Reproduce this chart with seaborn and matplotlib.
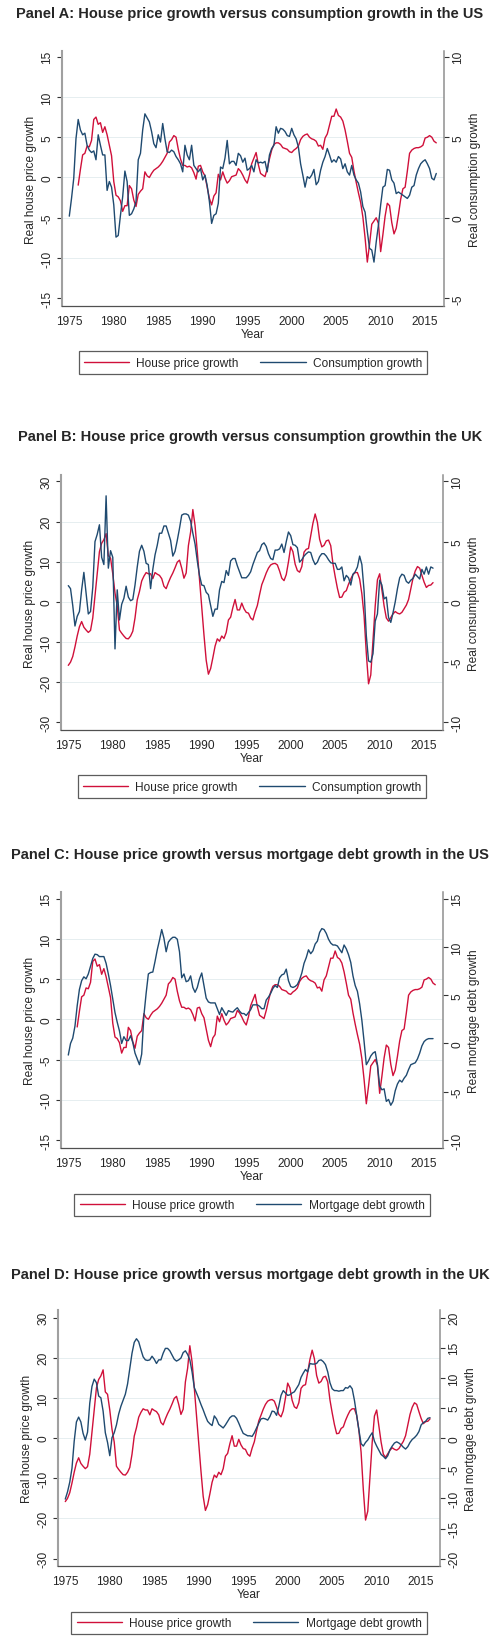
import numpy as np
import seaborn as sns
import matplotlib.pyplot as plt

# quarterly observation dates
us_house_year = np.arange(1976.0, 2016.5, 0.25)   # 1976Q1 - 2016Q2
us_cons_year = np.arange(1975.0, 2016.5, 0.25)    # 1975Q1 - 2016Q2
q_year = np.arange(1975.0, 2016.25, 0.25)         # 1975Q1 - 2016Q1

# real house price growth, US (left axis, panels A and C)
us_house = [
    -0.95, 1.0, 2.8, 3.0,
    3.9, 3.8, 4.6, 7.2,
    7.5, 6.6, 6.8, 5.6,
    6.3, 5.3, 4.0, 2.7,
    -0.5, -2.2, -2.4, -2.9,
    -4.2, -3.5, -3.5, -1.0,
    -1.4, -2.8, -3.6, -2.1,
    -1.7, -1.4, 0.7, 0.2,
    0.0, 0.5, 0.9, 1.1,
    1.3, 1.6, 2.0, 2.5,
    3.0, 4.4, 4.7, 5.2,
    5.0, 3.5, 2.3, 1.5,
    1.5, 1.3, 1.4, 1.2,
    0.6, -0.2, 1.4, 1.5,
    0.7, 0.2, -1.2, -2.6,
    -3.4, -2.3, -1.9, 0.4,
    -0.3, 0.7, -0.1, -0.7,
    -0.4, 0.1, 0.2, 0.3,
    1.1, 0.8, 0.3, -0.3,
    -0.7, 0.3, 1.7, 2.4,
    3.1, 1.6, 0.5, 0.3,
    0.1, 1.1, 2.3, 3.4,
    4.1, 4.3, 4.3, 4.1,
    3.7, 3.6, 3.5, 3.2,
    3.1, 3.4, 3.6, 3.9,
    4.7, 5.1, 5.3, 5.4,
    5.0, 4.8, 4.7, 4.5,
    3.9, 4.0, 3.5, 4.9,
    5.4, 6.5, 7.6, 7.6,
    8.5, 7.7, 7.5, 7.0,
    5.9, 4.5, 3.0, 2.5,
    0.8, -0.6, -1.9, -3.1,
    -4.9, -7.5, -10.5, -8.3,
    -5.8, -5.4, -5.0, -5.7,
    -9.2, -7.1, -4.8, -3.2,
    -3.5, -5.6, -7.0, -6.3,
    -4.6, -2.7, -1.4, -1.2,
    0.8, 3.0, 3.4, 3.6,
    3.7, 3.7, 3.8, 4.0,
    4.9, 5.0, 5.2, 5.0,
    4.5, 4.3,
]

# real consumption growth, US (right axis, panel A)
us_cons = [
    0.1, 1.2, 2.45, 4.9,
    6.1, 5.45, 5.15, 5.25,
    4.5, 4.2, 4.05, 4.15,
    3.6, 5.15, 4.5, 3.9,
    3.9, 1.7, 2.25, 1.9,
    0.8, -1.2, -1.1, 0.15,
    1.3, 2.9, 2.25, 0.15,
    0.25, 0.55, 1.0, 3.6,
    4.0, 5.45, 6.45, 6.2,
    5.95, 5.35, 4.6, 4.35,
    5.15, 4.7, 5.85, 4.9,
    4.1, 4.05, 4.2, 4.1,
    3.8, 3.6, 3.35, 2.85,
    4.5, 3.9, 3.6, 4.5,
    3.25, 3.05, 2.85, 3.05,
    2.35, 2.65, 2.0, 1.0,
    -0.35, 0.15, 0.25, 0.9,
    3.15, 3.05, 3.7, 4.8,
    3.35, 3.5, 3.5, 3.25,
    4.0, 3.85, 3.45, 3.7,
    2.95, 3.05, 3.25, 2.85,
    3.6, 3.4, 3.45, 3.4,
    3.5, 2.85, 3.9, 4.3,
    4.5, 5.65, 5.25, 5.55,
    5.5, 5.35, 5.1, 5.05,
    5.55, 5.15, 4.9, 4.4,
    3.35, 2.65, 1.9, 2.55,
    2.45, 2.65, 3.0, 2.05,
    2.25, 2.95, 3.45, 3.8,
    4.3, 3.9, 3.45, 3.6,
    3.45, 3.8, 3.65, 3.05,
    3.35, 2.85, 2.65, 3.25,
    2.65, 2.35, 2.15, 1.6,
    0.7, 0.35, -0.85, -1.9,
    -2.0, -2.75, -1.5, -0.45,
    0.8, 1.9, 2.0, 3.0,
    2.95, 2.35, 2.15, 1.5,
    1.6, 1.5, 1.4, 1.3,
    1.2, 1.4, 1.9, 2.0,
    2.65, 3.05, 3.35, 3.5,
    3.6, 3.35, 3.05, 2.45,
    2.35, 2.75,
]

# real house price growth, UK (left axis, panels B and D)
uk_house = [
    -15.8, -15.0, -13.6, -11.2,
    -8.5, -6.2, -4.9, -6.3,
    -7.0, -7.6, -7.1, -4.0,
    1.5, 7.0, 12.5, 14.6,
    15.5, 17.0, 11.5, 10.9,
    7.0, 2.2, -1.0, -7.0,
    -7.8, -8.5, -9.1, -9.2,
    -8.5, -7.3, -4.0, 0.5,
    2.6, 5.2, 6.4, 7.3,
    7.0, 7.0, 5.8, 7.3,
    6.9, 6.6, 5.8, 3.9,
    3.3, 4.8, 6.1, 7.2,
    8.5, 9.9, 10.4, 8.4,
    5.9, 7.2, 14.0, 17.4,
    23.0, 19.0, 12.5, 5.5,
    -1.5, -8.2, -14.5, -18.0,
    -16.6, -13.9, -11.0, -9.2,
    -9.8, -8.5, -9.1, -7.6,
    -4.5, -3.8, -1.4, 0.6,
    -2.0, -2.0, -0.3, -1.7,
    -2.6, -2.8, -4.0, -4.5,
    -2.5, -0.9, 1.8, 4.3,
    5.7, 7.2, 8.4, 9.2,
    9.5, 9.6, 9.2, 7.7,
    5.9, 5.3, 6.8, 10.0,
    13.7, 12.5, 9.4, 7.8,
    7.4, 8.8, 12.4, 13.1,
    13.3, 16.5, 19.6, 21.9,
    19.8, 15.6, 13.7, 14.1,
    15.2, 15.4, 14.0, 9.5,
    6.3, 3.4, 1.1, 1.2,
    2.4, 2.8, 4.4, 5.7,
    6.8, 7.3, 7.3, 5.7,
    2.0, -3.5, -12.8, -20.4,
    -18.2, -9.5, -1.0, 5.5,
    7.0, 2.9, -1.0, -4.0,
    -4.8, -3.9, -3.0, -2.4,
    -2.8, -3.0, -2.6, -1.7,
    -0.8, 0.6, 3.2, 5.9,
    7.7, 8.8, 8.4, 6.6,
    4.9, 3.6, 4.1, 4.2,
    4.8,
]

# real consumption growth, UK (right axis, panel B)
uk_cons = [
    1.35, 1.1, -0.3, -2.0,
    -1.2, -0.8, 1.0, 2.45,
    0.7, -1.0, -0.8, 1.2,
    5.0, 5.6, 6.4, 3.7,
    3.1, 8.8, 2.8, 4.25,
    3.7, -3.9, 1.0, -1.5,
    -0.2, 0.3, 1.3, 0.4,
    0.1, 0.2, 1.4, 2.9,
    4.2, 4.7, 4.2, 3.2,
    3.1, 1.1, 2.7, 3.9,
    4.7, 5.7, 5.7, 6.3,
    6.3, 5.7, 5.1, 3.8,
    4.2, 5.1, 6.1, 7.2,
    7.3, 7.3, 7.2, 6.7,
    5.7, 4.8, 3.4, 2.2,
    1.4, 1.35, 0.8, 0.6,
    -0.3, -1.2, -0.6, -0.6,
    1.0, 1.7, 1.6, 2.6,
    2.2, 3.4, 3.6, 3.6,
    3.0, 2.5, 2.0, 2.0,
    2.0, 2.2, 2.5, 3.1,
    3.6, 4.1, 4.25, 4.75,
    4.9, 4.6, 4.0, 3.6,
    3.5, 4.3, 4.3, 4.4,
    4.8, 4.1, 5.0, 5.8,
    5.5, 4.75, 4.7, 4.5,
    3.3, 3.5, 3.8, 4.0,
    4.15, 4.1, 3.5, 3.1,
    3.3, 3.75, 4.0, 4.0,
    3.8, 3.5, 3.25, 3.2,
    3.2, 2.7, 2.7, 2.9,
    1.75, 2.2, 2.0, 1.4,
    2.3, 2.5, 2.9, 3.8,
    3.1, 0.9, -2.8, -4.9,
    -5.0, -4.3, -1.6, -1.0,
    1.8, 1.4, 0.25, 0.4,
    -1.3, -1.7, -0.9, 0.0,
    1.1, 2.0, 2.3, 2.2,
    1.7, 1.55, 1.8, 1.95,
    2.3, 2.1, 1.9, 2.7,
    2.3, 2.9, 2.3, 2.9,
    2.8,
]

# real mortgage debt growth, US (right axis, panel C)
us_mort = [
    -1.2, 0.0, 0.55, 1.8,
    3.9, 5.6, 6.5, 6.9,
    6.7, 7.2, 8.0, 8.8,
    9.25, 9.2, 9.0, 9.0,
    9.0, 8.3, 7.2, 6.0,
    4.6, 3.2, 2.2, 1.3,
    0.0, 0.7, 0.3, 0.3,
    0.8, 0.1, -1.0, -1.6,
    -2.2, -1.1, 2.9, 5.2,
    7.2, 7.35, 7.4, 8.5,
    9.7, 10.7, 11.8, 10.9,
    9.5, 10.5, 10.8, 11.0,
    11.0, 10.8, 9.5, 6.8,
    7.2, 6.4, 6.5, 7.0,
    5.8, 5.3, 5.8, 6.7,
    7.3, 6.0, 4.7, 4.3,
    4.2, 4.2, 4.2, 3.6,
    3.0, 3.7, 3.3, 2.9,
    3.4, 3.3, 3.25, 3.5,
    3.7, 3.35, 3.1, 3.1,
    2.9, 3.2, 3.5, 4.0,
    4.0, 4.0, 3.85, 3.6,
    3.6, 4.5, 4.8, 5.2,
    5.7, 6.0, 5.8, 6.8,
    7.1, 7.2, 7.7, 6.5,
    5.9, 5.8, 5.9, 6.1,
    6.6, 7.3, 8.3, 8.9,
    9.7, 9.3, 9.6, 10.3,
    10.6, 11.5, 11.9, 11.8,
    11.4, 10.8, 10.4, 10.2,
    10.2, 10.1, 9.75, 9.4,
    10.2, 9.8, 9.2, 8.4,
    7.0, 6.0, 5.4, 4.1,
    2.4, 0.2, -2.2, -1.8,
    -1.3, -1.0, -0.85, -2.2,
    -4.4, -4.8, -4.7, -6.0,
    -5.8, -6.4, -6.0, -4.9,
    -4.2, -3.8, -4.0, -3.6,
    -3.3, -2.7, -2.2, -2.1,
    -2.0, -1.6, -1.0, -0.25,
    0.2, 0.4, 0.5, 0.5,
    0.5,
]

# real mortgage debt growth, UK (right axis, panel D)
uk_mort = [
    -10.1, -8.9, -7.3, -5.0,
    -0.5, 2.7, 3.5, 2.7,
    0.8, -0.3, 1.0, 5.8,
    8.6, 9.8, 9.2, 7.0,
    6.7, 4.5, 0.9, -0.7,
    -2.9, 0.1, 0.9, 2.2,
    4.0, 5.3, 6.3, 7.3,
    9.0, 11.5, 14.1, 15.9,
    16.5, 16.0, 14.7, 13.5,
    13.0, 12.9, 13.0, 13.6,
    13.1, 12.4, 13.0, 13.0,
    14.1, 14.9, 14.9, 14.5,
    13.8, 13.1, 12.8, 13.0,
    13.3, 14.2, 14.5, 13.9,
    13.0, 11.0, 8.4, 7.5,
    6.6, 5.6, 4.7, 3.7,
    2.8, 2.4, 2.1, 3.7,
    3.2, 2.3, 2.0, 1.7,
    2.2, 2.8, 3.4, 3.7,
    3.7, 3.3, 2.5, 1.6,
    0.8, 0.6, 0.4, 0.4,
    0.3, 0.9, 1.7, 2.5,
    3.2, 3.3, 3.2, 3.0,
    3.6, 4.5, 4.4, 3.8,
    5.3, 7.1, 7.9, 7.5,
    7.1, 7.2, 7.5, 7.7,
    8.3, 8.9, 10.1, 10.8,
    11.4, 11.0, 12.4, 12.3,
    12.3, 12.4, 12.9, 13.0,
    12.7, 12.2, 11.0, 9.2,
    8.2, 7.9, 7.9, 7.8,
    7.9, 7.9, 8.4, 8.3,
    8.7, 8.2, 6.3, 3.8,
    1.4, -0.9, -1.3, -0.7,
    -0.3, 0.35, 0.9, -0.5,
    -1.3, -2.0, -2.7, -3.0,
    -3.4, -2.9, -1.9, -1.3,
    -0.8, -0.6, -0.8, -1.1,
    -1.5, -1.8, -1.4, -0.7,
    -0.2, 0.1, 0.5, 1.1,
    2.2, 2.6, 2.8, 3.3,
    3.4,
]

year_ticks = [1975, 1980, 1985, 1990, 1995, 2000, 2005, 2010, 2015]

RED = "#D0103A"
BLUE = "#1F4A70"
FS = 8.6


def draw_panel(fig, rect, title, title_y, hp_year, hp, o_year, o, o_label, r_label,
               l_lim, l_ticks, r_lim, r_ticks):
    ax = fig.add_axes(rect)
    ax2 = ax.twinx()

    # light horizontal grid at the inner labels only
    for t in l_ticks[1:-1]:
        ax.axhline(t, color="#e6eef0", linewidth=0.7, zorder=0)

    sns.lineplot(x=hp_year, y=hp, ax=ax, color=RED, linewidth=1.0, errorbar=None)
    sns.lineplot(x=o_year, y=o, ax=ax2, color=BLUE, linewidth=1.0, errorbar=None)

    ax.set_xlim(1974.18, 2017.12)
    ax.set_xticks(year_ticks)
    ax.set_ylim(*l_lim)
    ax.set_yticks(l_ticks)
    ax2.set_ylim(*r_lim)
    ax2.set_yticks(r_ticks)

    ax.spines["top"].set_visible(False)
    ax.spines["right"].set_visible(False)
    ax.spines["left"].set_color("#a0a0a0")
    ax.spines["left"].set_linewidth(1.5)
    ax.spines["bottom"].set_color("#505050")
    ax.spines["bottom"].set_linewidth(0.9)
    for s in ["top", "left", "bottom"]:
        ax2.spines[s].set_visible(False)
    ax2.spines["right"].set_color("#909090")
    ax2.spines["right"].set_linewidth(1.1)

    ax.tick_params(axis="x", direction="out", length=2.8, width=0.8, color="#333333",
                   labelsize=FS, pad=3.5)
    ax.tick_params(axis="y", direction="out", length=3.6, width=0.8, color="#333333",
                   labelsize=FS, pad=2.5, labelrotation=90)
    ax2.tick_params(axis="y", direction="out", length=3.6, width=0.8, color="#333333",
                    labelsize=FS, pad=2.5, labelrotation=90)
    plt.setp(ax.get_yticklabels(), va="center")
    plt.setp(ax2.get_yticklabels(), va="center")

    ax.set_xlabel("Year", fontsize=FS, labelpad=1)
    ax.set_ylabel("Real house price growth", fontsize=FS, labelpad=3)
    ax2.set_ylabel(r_label, fontsize=FS, labelpad=3)

    fig.text(0.5, 1 - title_y / 1640, title, ha="center", va="center",
             fontsize=10.5, fontweight="bold")

    leg = ax.legend([ax.lines[-1], ax2.lines[-1]], ["House price growth", o_label],
                    loc="upper center", bbox_to_anchor=(0.5, -0.155), ncol=2,
                    frameon=True, fancybox=False, edgecolor="#333333", fontsize=FS,
                    handlelength=3.8, handletextpad=0.6, columnspacing=1.8,
                    borderpad=0.45)
    leg.get_frame().set_linewidth(0.9)
    return ax, ax2


sns.set_style("white")
plt.rcParams["font.family"] = ["Liberation Sans", "DejaVu Sans"]
plt.rcParams["axes.unicode_minus"] = False

fig = plt.figure(figsize=(5, 16.4), dpi=100)

draw_panel(fig, [62 / 500, 1 - 307 / 1640, 382 / 500, 255 / 1640],
           "Panel A: House price growth versus consumption growth in the US", 14,
           us_house_year, us_house, us_cons_year, us_cons,
           "Consumption growth", "Real consumption growth",
           (-15.95, 15.7), [-15, -10, -5, 0, 5, 10, 15],
           (-5.475, 10.35), [-5, 0, 5, 10])

draw_panel(fig, [61 / 500, 1 - 731 / 1640, 382 / 500, 255 / 1640],
           "Panel B: House price growth versus consumption growthin the UK", 437,
           q_year, uk_house, q_year, uk_cons,
           "Consumption growth", "Real consumption growth",
           (-31.9, 31.6), [-30, -20, -10, 0, 10, 20, 30],
           (-10.63, 10.53), [-10, -5, 0, 5, 10])

draw_panel(fig, [61 / 500, 1 - 1149 / 1640, 382 / 500, 256 / 1640],
           "Panel C: House price growth versus mortgage debt growth in the US", 855,
           us_house_year, us_house, q_year, us_mort,
           "Mortgage debt growth", "Real mortgage debt growth",
           (-16.0, 15.83), [-15, -10, -5, 0, 5, 10, 15],
           (-10.83, 15.69), [-10, -5, 0, 5, 10, 15])

draw_panel(fig, [58 / 500, 1 - 1567 / 1640, 382 / 500, 256 / 1640],
           "Panel D: House price growth versus mortgage debt growth in the UK", 1275,
           q_year, uk_house, q_year, uk_mort,
           "Mortgage debt growth", "Real mortgage debt growth",
           (-31.84, 31.9), [-30, -20, -10, 0, 10, 20, 30],
           (-21.2, 21.27), [-20, -15, -10, -5, 0, 5, 10, 15, 20])

fig.savefig("out.png", dpi=100)
